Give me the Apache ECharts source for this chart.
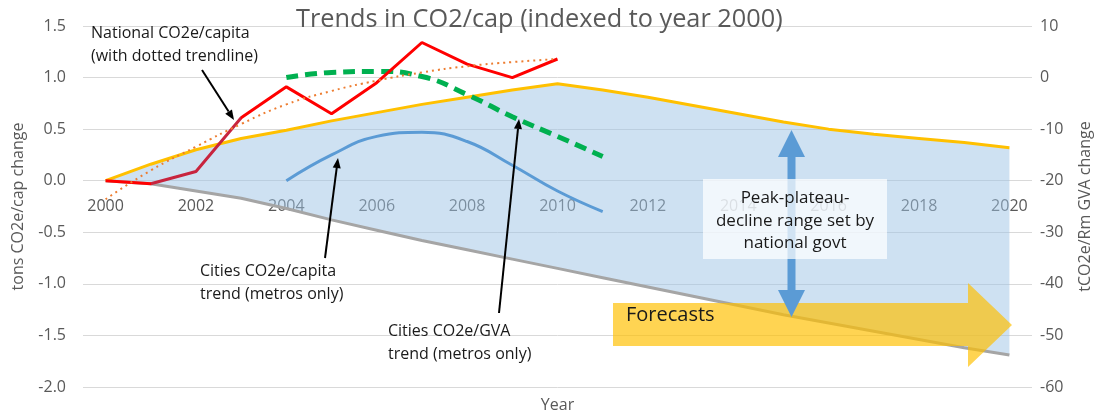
<!DOCTYPE html>
<html>
<head>
<meta charset="utf-8">
<script src="https://cdn.jsdelivr.net/npm/echarts@6/dist/echarts.min.js"></script>
<style>
  html, body { margin: 0; padding: 0; background: #ffffff; }
  #chart { width: 1102px; height: 415px; }
</style>
</head>
<body>
<div id="chart"></div>
<script>
// Years on the category axis
const years = ['2000','2001','2002','2003','2004','2005','2006','2007','2008','2009','2010',
               '2011','2012','2013','2014','2015','2016','2017','2018','2019','2020'];

// National CO2e/capita change (tons, left axis)
const national = [0, -0.03, 0.09, 0.61, 0.91, 0.65, 0.95, 1.34, 1.13, 1.00, 1.18,
                  null, null, null, null, null, null, null, null, null, null];
// Dotted trendline through the national series
const nationalTrend = [-0.18, 0.10, 0.33, 0.55, 0.74, 0.87, 0.97, 1.05, 1.11, 1.15, 1.18,
                       null, null, null, null, null, null, null, null, null, null];
// Cities CO2e/capita trend, metros only (left axis)
const citiesCapita = [null, null, null, null, 0.00, 0.25, 0.43, 0.47, 0.38, 0.15, -0.10, -0.30,
                      null, null, null, null, null, null, null, null, null];
// Cities CO2e/GVA trend, metros only (tCO2e/Rm GVA, right axis)
const citiesGva = [null, null, null, null, 0, 1.0, 1.2, 0.2, -3.3, -7.6, -11.4, -15.3,
                   null, null, null, null, null, null, null, null, null];
// Peak-plateau-decline range: upper and lower paths
const upperPath = [0, 0.16, 0.30, 0.41, 0.49, 0.58, 0.66, 0.74, 0.81, 0.88, 0.94,
                   0.88, 0.81, 0.73, 0.65, 0.57, 0.50, 0.45, 0.41, 0.37, 0.32];
const lowerPath = [0, -0.03, -0.10, -0.17, -0.27, -0.38, -0.48, -0.58, -0.67, -0.76, -0.85,
                   -0.94, -1.03, -1.12, -1.21, -1.30, -1.38, -1.46, -1.54, -1.62, -1.69];

// Axis ticks
const leftTicks = { min: -2.0, max: 1.5, interval: 0.5 };
const rightTicks = { min: -60, max: 10, interval: 10 };

const FONT = '"Open Sans", sans-serif';
const GREY_TEXT = '#595959';

// Band thickness between the two range paths, stacked on the lower path
const bandWidth = upperPath.map((v, i) => +(v - lowerPath[i]).toFixed(3));

const chart = echarts.init(document.getElementById('chart'), null, { renderer: 'canvas' });

// Straight annotation arrow (line plus filled head at the end point)
function pointer(x1, y1, x2, y2) {
  const dx = x2 - x1, dy = y2 - y1;
  const len = Math.sqrt(dx * dx + dy * dy);
  const ux = dx / len, uy = dy / len;
  const hl = 10, hw = 4;
  const bx = x2 - ux * hl, by = y2 - uy * hl;
  return [
    { type: 'line', z: 60, silent: true,
      shape: { x1: x1, y1: y1, x2: bx, y2: by },
      style: { stroke: '#000000', lineWidth: 2 } },
    { type: 'polygon', z: 60, silent: true,
      shape: { points: [[x2, y2], [bx - uy * hw, by + ux * hw], [bx + uy * hw, by - ux * hw]] },
      style: { fill: '#000000' } }
  ];
}

function note(x, y, text, size) {
  return { type: 'text', z: 61, silent: true, x: x, y: y,
    style: { text: text, font: 'normal ' + size + 'px ' + FONT, fill: '#1a1a1a',
             align: 'left', verticalAlign: 'top', lineHeight: 23 } };
}

const graphics = [
  // Forecasts block arrow
  { type: 'polygon', z: 50, silent: true,
    shape: { points: [[613, 303], [968, 303], [968, 283], [1012, 325], [968, 367], [968, 346], [613, 346]] },
    style: { fill: 'rgba(255,192,0,0.68)' } },
  { type: 'text', z: 51, silent: true, x: 626, y: 315,
    style: { text: 'Forecasts', font: 'normal 20px ' + FONT, fill: '#1a1a1a', verticalAlign: 'middle' } },
  // Double-headed range arrow
  { type: 'polygon', z: 52, silent: true,
    shape: { points: [[778, 157], [791.5, 130], [805, 157], [795.5, 157], [795.5, 290], [805, 290],
                      [791.5, 317], [778, 290], [787.5, 290], [787.5, 157]] },
    style: { fill: '#5b9bd5' } },
  // Label box for the range arrow
  { type: 'rect', z: 53, silent: true,
    shape: { x: 703, y: 179, width: 184, height: 80 },
    style: { fill: 'rgba(255,255,255,0.72)' } },
  { type: 'text', z: 54, silent: true, x: 795, y: 187,
    style: { text: 'Peak-plateau-\ndecline range set by\nnational govt', font: 'normal 17px ' + FONT,
             fill: '#1a1a1a', align: 'center', verticalAlign: 'top', lineHeight: 22.5 } },
  // Series annotations
  note(91, 22, 'National CO2e/capita\n(with dotted trendline)', 16),
  note(200, 260, 'Cities CO2e/capita\ntrend (metros only)', 16),
  note(388, 320, 'Cities CO2e/GVA\ntrend (metros only)', 16)
].concat(pointer(202, 70, 234, 120), pointer(325, 258, 338, 158), pointer(499, 313, 519, 119));

const GRID = { left: 83, right: 70, top: 26, bottom: 28 };

const option = {
  backgroundColor: '#ffffff',
  animation: false,
  title: {
    text: 'Trends in CO2/cap (indexed to year 2000)',
    left: 296, top: 7, padding: 0,
    textStyle: { fontFamily: FONT, fontSize: 25.3, fontWeight: 'normal', color: GREY_TEXT }
  },
  grid: Object.assign({ containLabel: false, outerBoundsMode: 'none' }, GRID),
  visualMap: {
    show: false, type: 'piecewise', seriesIndex: 3, dimension: 0,
    pieces: [
      { lt: 1, color: '#ff0000' },
      { gte: 1, lte: 3, color: '#c8243e' },
      { gt: 3, color: '#ff0000' }
    ]
  },
  xAxis: {
    type: 'category', data: years, boundaryGap: true,
    name: 'Year', nameLocation: 'middle', nameGap: 217,
    nameTextStyle: { fontFamily: FONT, fontSize: 16, color: GREY_TEXT },
    axisLine: { show: false, onZero: false },
    axisTick: { show: false },
    axisLabel: { interval: 1, margin: 18, fontFamily: FONT, fontSize: 16, color: GREY_TEXT },
    splitLine: { show: false }
  },
  yAxis: [
    {
      type: 'value', min: leftTicks.min, max: leftTicks.max, interval: leftTicks.interval,
      name: 'tons CO2e/cap change', nameLocation: 'middle', nameGap: 57,
      nameTextStyle: { fontFamily: FONT, fontSize: 16, color: GREY_TEXT },
      axisLine: { show: false }, axisTick: { show: false },
      axisLabel: { margin: 17, fontFamily: FONT, fontSize: 16, color: GREY_TEXT,
                   formatter: v => v.toFixed(1) },
      splitLine: { lineStyle: { color: '#d9d9d9', width: 1 } }
    },
    {
      type: 'value', min: rightTicks.min, max: rightTicks.max, interval: rightTicks.interval,
      position: 'right',
      name: 'tCO2e/Rm GVA change', nameLocation: 'middle', nameGap: 45,
      nameTextStyle: { fontFamily: FONT, fontSize: 16, color: GREY_TEXT },
      axisLine: { show: false }, axisTick: { show: false },
      axisLabel: { margin: 8, fontFamily: FONT, fontSize: 16, color: GREY_TEXT },
      splitLine: { show: false }
    }
  ],
  series: [
    // invisible base of the range band
    { name: 'band base', type: 'line', stack: 'range', stackStrategy: 'all',
      data: lowerPath, symbol: 'none', silent: true, lineStyle: { opacity: 0 }, z: 1 },
    // shaded range between the paths
    { name: 'range', type: 'line', stack: 'range', stackStrategy: 'all',
      data: bandWidth, symbol: 'none', silent: true, lineStyle: { opacity: 0 },
      areaStyle: { color: 'rgba(157,195,230,0.5)', opacity: 1 }, z: 1 },
    { name: 'Lower path', type: 'line', data: lowerPath, symbol: 'none',
      lineStyle: { color: '#a5a5a5', width: 3 }, z: 3 },
    { name: 'National CO2e/capita', type: 'line', data: national, symbol: 'none',
      lineStyle: { width: 3 }, z: 5 },
    { name: 'Upper path', type: 'line', data: upperPath, symbol: 'none',
      lineStyle: { color: '#ffc000', width: 3 }, z: 4 },
    { name: 'National trend', type: 'line', data: nationalTrend, symbol: 'none', smooth: true,
      lineStyle: { color: '#ed7d31', width: 2, type: [2, 4] }, z: 6 },
    { name: 'Cities CO2e/capita', type: 'line', data: citiesCapita, symbol: 'none', smooth: 0.45,
      lineStyle: { color: '#5b9bd5', width: 3 }, z: 4 },
    { name: 'Cities CO2e/GVA', type: 'line', yAxisIndex: 1, data: citiesGva, symbol: 'none', smooth: true,
      lineStyle: { color: '#00b050', width: 5, type: [12, 7] }, z: 4 }
  ],
  graphic: graphics
};

chart.setOption(option);

// Year labels sit on the zero line of the left axis: lift the x axis up to it
const zeroY = chart.convertToPixel({ yAxisIndex: 0 }, 0);
const plotBottom = chart.getHeight() - GRID.bottom;
chart.setOption({ xAxis: { offset: -(plotBottom - zeroY) } });
</script>
</body>
</html>
